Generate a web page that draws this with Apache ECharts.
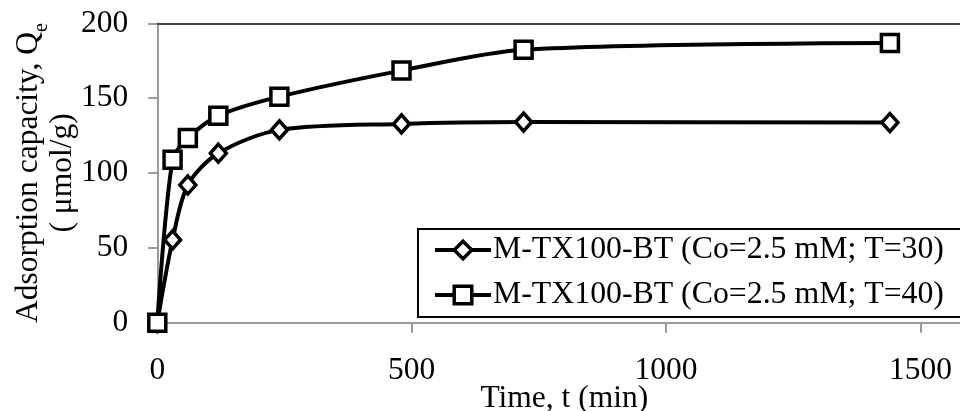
<!DOCTYPE html>
<html>
<head>
<meta charset="utf-8">
<script src="https://cdn.jsdelivr.net/npm/echarts@6/dist/echarts.min.js"></script>
<style>
html,body{margin:0;padding:0;background:#fff;}
#c{width:960px;height:411px;}
</style>
</head>
<body>
<div id="c"></div>
<script>
const times = [0, 30, 60, 120, 240, 480, 720, 1440];
const seriesT30 = [0, 55.3, 92, 113.2, 128.8, 132.8, 134, 133.7];
const seriesT40 = [0, 108.8, 123.3, 138.2, 151, 168.4, 182.3, 186.8];
const legendNames = ['M-TX100-BT (Co=2.5 mM; T=30)', 'M-TX100-BT (Co=2.5 mM; T=40)'];
const xTicks = [0, 500, 1000, 1500];
const yTicks = [0, 50, 100, 150, 200];

const FONT = 'Liberation Serif';
const chart = echarts.init(document.getElementById('c'), null, {renderer: 'canvas'});

function pairs(xs, ys) { return xs.map((x, i) => [x, ys[i]]); }

chart.setOption({
  animation: false,
  backgroundColor: '#fff',
  textStyle: {fontFamily: FONT, color: '#000'},
  grid: {left: 157.3, top: 23.3, height: 299.4, width: 814, containLabel: false, outerBoundsMode: 'none'},
  legend: {
    data: legendNames,
    orient: 'vertical',
    left: 418, top: 229,
    padding: [4, 20, 5, 15],
    itemGap: 11,
    itemWidth: 56,
    itemHeight: 22,
    borderColor: '#000',
    borderWidth: 2,
    backgroundColor: '#fff',
    lineStyle: {color: '#000', width: 4},
    itemStyle: {color: '#fff', borderColor: '#000', borderWidth: 3.5},
    textStyle: {fontFamily: FONT, fontSize: 31.8, color: '#000', lineHeight: 34, padding: [0,0,0,-3]}
  },
  xAxis: [{
    type: 'value', min: 0, max: 1600, interval: 500,
    name: 'Time, t (min)', nameLocation: 'middle', nameGap: 60, nameMoveOverlap: false,
    nameTextStyle: {fontFamily: FONT, fontSize: 31.5, color: '#000'},
    axisLine: {show: true, lineStyle: {color: '#999', width: 2}},
    axisTick: {show: true, inside: false, length: 10, lineStyle: {color: '#999', width: 2}},
    axisLabel: {fontFamily: FONT, fontSize: 31.5, color: '#000', margin: 32,
      formatter: v => xTicks.indexOf(v) >= 0 ? String(v) : ''},
    splitLine: {show: false}
  }, {
    type: 'value', position: 'top', min: 0, max: 1600,
    axisLine: {show: true, lineStyle: {color: '#444', width: 2}},
    axisTick: {show: false}, axisLabel: {show: false}, splitLine: {show: false}
  }],
  yAxis: {
    type: 'value', min: 0, max: 200, interval: 50,
    name: '{a|Adsorption capacity, Q}{s|e}\n{a|( μmol/g)}',
    nameLocation: 'middle', nameRotate: 90, nameGap: 78, nameMoveOverlap: false,
    nameTextStyle: {
      fontFamily: FONT, color: '#000', align: 'center',
      rich: {
        a: {fontFamily: FONT, fontSize: 31.5, lineHeight: 34, color: '#000'},
        s: {fontFamily: FONT, fontSize: 20, lineHeight: 34, color: '#000', verticalAlign: 'bottom', padding: [0,0,-6,0]}
      }
    },
    axisLine: {show: true, lineStyle: {color: '#999', width: 2}},
    axisTick: {show: true, inside: false, length: 9, lineStyle: {color: '#999', width: 2}},
    axisLabel: {fontFamily: FONT, fontSize: 31.5, color: '#000', margin: 29,
      formatter: v => yTicks.indexOf(v) >= 0 ? String(v) : ''},
    splitLine: {show: false}
  },
  series: [{
    name: legendNames[0], type: 'line', data: pairs(times, seriesT30),
    smooth: 0.3, symbol: 'diamond', symbolSize: [16, 18], showSymbol: true,
    lineStyle: {color: '#000', width: 4},
    itemStyle: {color: '#fff', borderColor: '#000', borderWidth: 3.5},
    z: 3
  }, {
    name: legendNames[1], type: 'line', data: pairs(times, seriesT40),
    smooth: 0.3, symbol: 'rect', symbolSize: [17, 17], showSymbol: true,
    lineStyle: {color: '#000', width: 4},
    itemStyle: {color: '#fff', borderColor: '#000', borderWidth: 3.5},
    z: 4
  }]
});
</script>
</body>
</html>
